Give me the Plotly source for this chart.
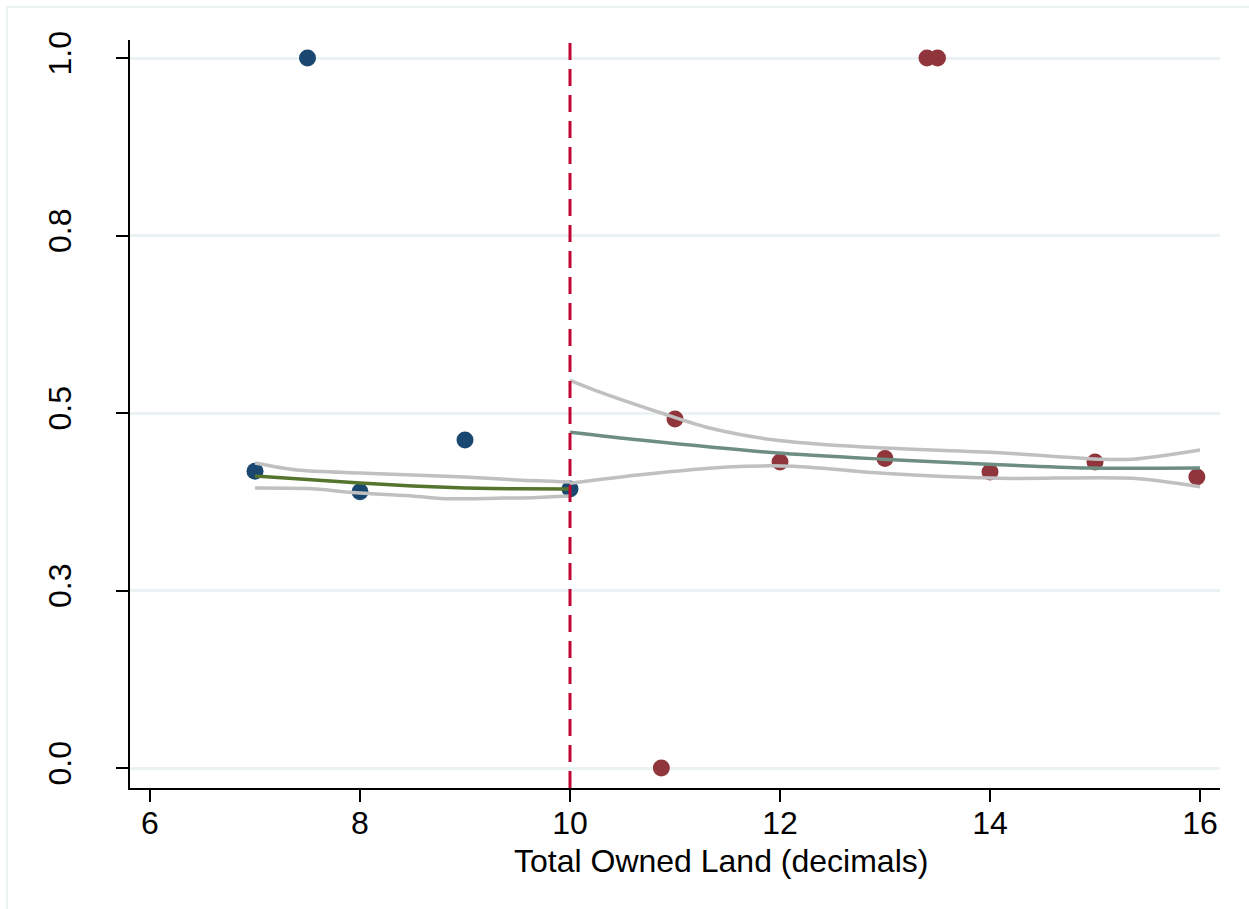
import plotly.graph_objects as go

# ---- data ----
left_x = [7.0, 7.5, 8.0, 9.0, 10.0]
left_y = [0.418, 1.0, 0.389, 0.462, 0.393]

right_x = [10.87, 11.0, 12.0, 13.0, 13.4, 13.5, 14.0, 15.0, 15.97]
right_y = [0.0, 0.4915, 0.431, 0.436, 1.0, 1.0, 0.417, 0.431, 0.410]

fitL_x = [7.0, 7.5, 8.0, 8.5, 9.0, 9.5, 10.0]
fitL_y = [0.4113, 0.4063, 0.4014, 0.3972, 0.3944, 0.3932, 0.3930]
ciL_hi_x = [7.0, 7.4, 8.0, 8.5, 9.0, 9.5, 10.0]
ciL_hi_y = [0.4296, 0.4197, 0.4155, 0.4127, 0.4099, 0.4056, 0.4028]
ciL_lo_x = [7.0, 7.5, 8.0, 8.5, 8.86, 9.3, 9.65, 10.0]
ciL_lo_y = [0.3944, 0.3935, 0.3873, 0.3830, 0.3792, 0.3800, 0.3808, 0.3830]

fitR_x = [10.0, 10.67, 11.95, 12.97, 14.09, 14.93, 16.0]
fitR_y = [0.473, 0.462, 0.444, 0.435, 0.427, 0.4225, 0.4225]
ciR_hi_x = [10.0, 10.24, 10.87, 11.3, 11.95, 12.8, 14.09, 15.06, 15.36, 16.0]
ciR_hi_y = [0.546, 0.532, 0.500, 0.480, 0.462, 0.452, 0.444, 0.435, 0.435, 0.448]
ciR_lo_x = [10.0, 10.67, 11.5, 12.13, 12.98, 14.09, 15.36, 16.0]
ciR_lo_y = [0.401, 0.413, 0.424, 0.425, 0.415, 0.408, 0.408, 0.396]

cutoff = 10
y_ticks = [0, 0.25, 0.5, 0.75, 1.0]
y_ticktext = ["0.0", "0.3", "0.5", "0.8", "1.0"]
x_ticks = [6, 8, 10, 12, 14, 16]
x_title = "Total Owned Land (decimals)"

NAVY = "#1a476f"
MAROON = "#90353b"
GREEN = "#55752f"
TEAL = "#6e8e84"
GRAY = "#c0c0c0"
CRAN = "#c10534"
GRID = "#eaf2f3"
FONT = "Liberation Sans, Arial, sans-serif"
FS = 32

fig = go.Figure()
fig.add_trace(go.Scatter(x=left_x, y=left_y, mode="markers",
                         marker=dict(color=NAVY, size=17, line=dict(width=0)), showlegend=False))
fig.add_trace(go.Scatter(x=right_x, y=right_y, mode="markers",
                         marker=dict(color=MAROON, size=17, line=dict(width=0)), showlegend=False))
for xs, ys in [(ciL_hi_x, ciL_hi_y), (ciL_lo_x, ciL_lo_y), (ciR_hi_x, ciR_hi_y), (ciR_lo_x, ciR_lo_y)]:
    fig.add_trace(go.Scatter(x=xs, y=ys, mode="lines",
                             line=dict(color=GRAY, width=3.5, shape="spline", smoothing=0.8),
                             showlegend=False))
fig.add_trace(go.Scatter(x=fitL_x, y=fitL_y, mode="lines",
                         line=dict(color=GREEN, width=3.5, shape="spline", smoothing=0.8), showlegend=False))
fig.add_trace(go.Scatter(x=fitR_x, y=fitR_y, mode="lines",
                         line=dict(color=TEAL, width=3.5, shape="spline", smoothing=0.8), showlegend=False))

fig.add_shape(type="line", xref="x", yref="paper", x0=cutoff, x1=cutoff, y0=0, y1=1,
              line=dict(color=CRAN, width=3, dash="17px,9px"), layer="above")
# outer graph-region border
fig.add_shape(type="rect", xref="paper", yref="paper",
              x0=(7 - 130) / 1090, x1=1.2, y0=-0.3, y1=(788 - 7) / 748,
              line=dict(color=GRID, width=2), fillcolor="rgba(0,0,0,0)", layer="below")

fig.add_annotation(text=x_title, xref="paper", yref="paper",
                   x=(721 - 130) / 1090, y=(788 - 861) / 748,
                   xanchor="center", yanchor="middle", showarrow=False,
                   font=dict(size=FS, family=FONT, color="black"))

fig.update_layout(
    width=1249, height=909,
    margin=dict(l=130, r=29, t=40, b=121, autoexpand=False),
    paper_bgcolor="white", plot_bgcolor="white",
    font=dict(family=FONT, size=FS, color="black"),
    showlegend=False,
)
fig.update_xaxes(range=[6 - 20 / 105, 16 + 20 / 105], tickvals=x_ticks, automargin=False,
                 tickfont=dict(size=FS),
                 showline=True, linecolor="black", linewidth=1.5,
                 ticks="outside", ticklen=12, tickwidth=1.5, tickcolor="black",
                 showgrid=False, zeroline=False, ticklabelstandoff=-6)
fig.update_yaxes(range=[-20 / 710, 728 / 710], tickvals=y_ticks, ticktext=y_ticktext,
                 tickangle=-90, automargin=False, tickfont=dict(size=FS),
                 showline=True, linecolor="black", linewidth=1.5,
                 ticks="outside", ticklen=12, tickwidth=1.5, tickcolor="black",
                 showgrid=True, gridcolor=GRID, gridwidth=3, zeroline=False,
                 ticklabelstandoff=32)

fig.write_html("out.html", config={"displayModeBar": False},
               post_script="document.body.style.margin='0';")
